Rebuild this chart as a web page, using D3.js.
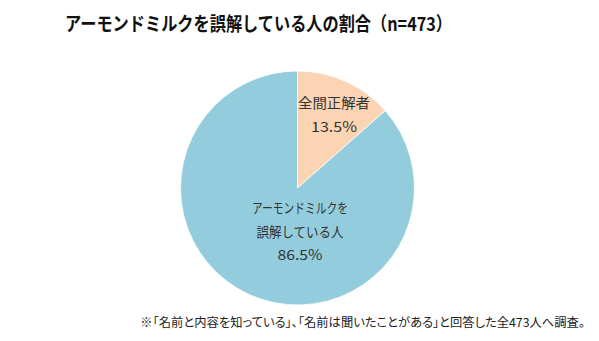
<!DOCTYPE html>
<html><head><meta charset="utf-8">
<script src="https://cdn.jsdelivr.net/npm/d3@7"></script>
<style>body{margin:0;background:#fff}svg{display:block}text{font-family:"Noto Sans CJK JP","Noto Sans",sans-serif}.p{font-feature-settings:"palt"}</style>
</head><body>
<svg id="c" width="599" height="341"></svg>
<script>
const categories = ["全間正解者", "アーモンドミルクを誤解している人"];
const labelLines = [["全間正解者"], ["アーモンドミルクを", "誤解している人"]];
const values = [13.5, 86.5];
const colors = ["#FBD4B4", "#93CDDD"];
const title = "アーモンドミルクを誤解している人の割合（n=473）";
const footnote = "※「名前と内容を知っている」、「名前は聞いたことがある」と回答した全473人へ調査。";

const svg = d3.select("#c");
const cx = 297.5, cy = 188, r = 117;

svg.append("text").attr("x", 65).attr("y", 31)
  .attr("font-size", 19).attr("font-weight", "bold").attr("fill", "#111")
  .attr("textLength", 387).attr("lengthAdjust", "spacingAndGlyphs")
  .text(title);

const pie = d3.pie().sort(null).value(d => d)(values);
const arc = d3.arc().innerRadius(0).outerRadius(r);
const g = svg.append("g").attr("transform", `translate(${cx},${cy})`);
g.selectAll("path").data(pie).join("path")
  .attr("d", arc).attr("fill", (d, i) => colors[i])
  .attr("stroke", "#fff").attr("stroke-width", 0.8);

// label layout (positions and rendered widths)
const labelPos = [
  {x: 334, y: 103, w: [72, 46]},
  {x: 300, y: 208, w: [96, 87, 45]}
];
pie.forEach((d, i) => {
  const lines = labelLines[i].concat([d3.format(".1f")(values[i]) + "%"]);
  lines.forEach((ln, k) => {
    const w = labelPos[i].w[k];
    svg.append("text")
      .attr("x", labelPos[i].x - w / 2)
      .attr("y", labelPos[i].y + k * 23.5 + 5)
      .attr("font-size", 14).attr("fill", "#333")
      .attr("textLength", w).attr("lengthAdjust", "spacingAndGlyphs")
      .text(ln);
  });
});

svg.append("text").attr("class", "p").attr("x", 585).attr("y", 327)
  .attr("text-anchor", "end")
  .attr("font-size", 12.3).attr("fill", "#222")
  .text(footnote);
</script>
</body></html>
